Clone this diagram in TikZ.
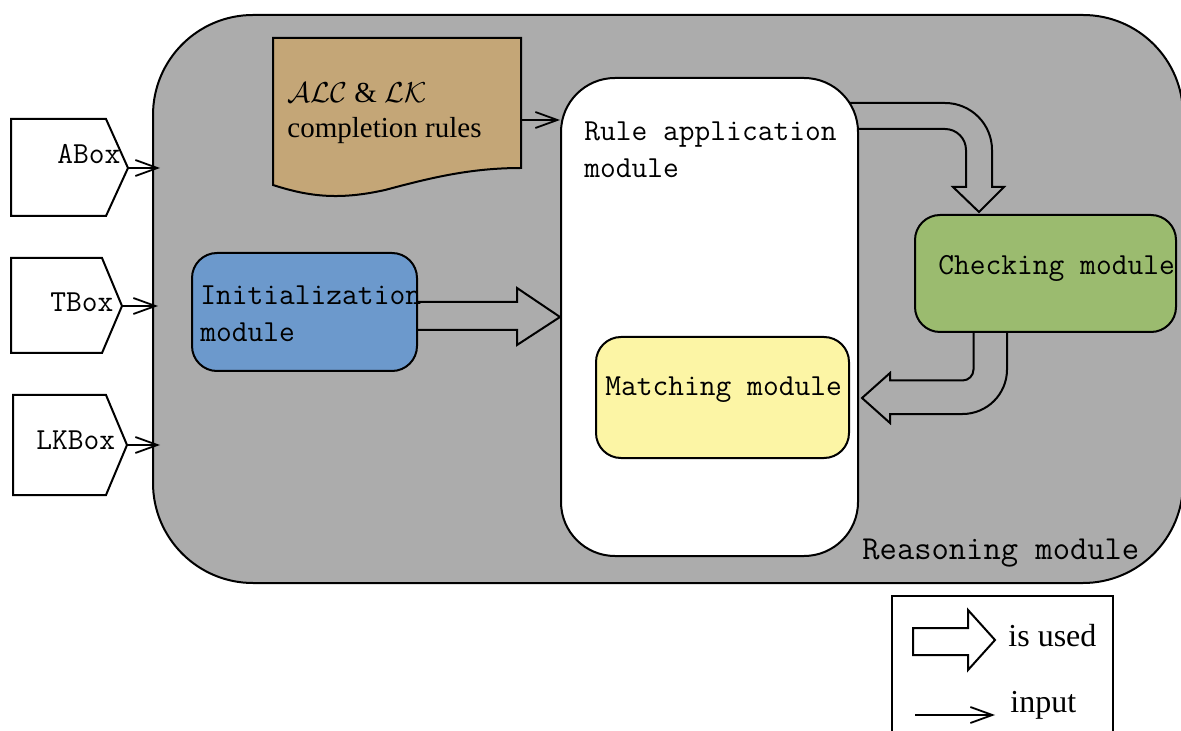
\documentclass[tikz,border=0pt]{standalone}
\usepackage{fontspec}
\setmainfont{Liberation Serif}
\usetikzlibrary{arrows.meta}

\definecolor{reasongray}{RGB}{172,172,172}
\definecolor{ruletan}{RGB}{196,166,119}
\definecolor{initblue}{RGB}{108,153,204}
\definecolor{checkgreen}{RGB}{155,187,111}
\definecolor{matchyellow}{RGB}{252,245,165}

\tikzset{
	module/.style={draw, line width=1pt, rounded corners=12.5pt, inner sep=0pt},
	modtext/.style={anchor=west, inner sep=0pt, align=left, font=\ttfamily\fontsize{15.3}{18.5}\selectfont},
	serftext/.style={anchor=west, inner sep=0pt, align=left, font=\fontsize{14.5}{17.5}\selectfont},
	input/.style={line width=0.9pt, -{Straight Barb[length=11pt,width=8pt,line width=0.9pt]}},
	used/.style={line width=1pt, line join=miter},
}

\begin{document}
\begin{tikzpicture}[x=0.5pt,y=-0.5pt]
		\useasboundingbox (0,0) rectangle (1181,731);
		% reasoning module
		\node[module, rounded corners=50pt, fill=reasongray, minimum width=515pt, minimum height=284pt] (reason) at (668,299) {};
		\node[modtext, font=\ttfamily\fontsize{16.8}{18.5}\selectfont] (reasonlbl) at (862,553) {Reasoning module};
		% inputs
		\filldraw[fill=white, line width=1pt] (11,119) -- (106,119) -- (128,168) -- (106,216) -- (11,216) -- cycle;
		\filldraw[fill=white, line width=1pt] (11,258) -- (102,258) -- (122,306) -- (102,353) -- (11,353) -- cycle;
		\filldraw[fill=white, line width=1pt] (13,395) -- (106,395) -- (127,445) -- (106,495) -- (13,495) -- cycle;
		\node[modtext] (abox) at (57,154) {ABox};
		\node[modtext] (tbox) at (50,302) {TBox};
		\node[modtext] (lkbox) at (36,440) {LKBox};
		\coordinate (aboxtip) at (128,168);
		\coordinate (tboxtip) at (122,306);
		\coordinate (lkboxtip) at (127,445);
		\draw[input] (aboxtip) -- ++(32,0);
		\draw[input] (tboxtip) -- ++(36,0);
		\draw[input] (lkboxtip) -- ++(33,0);
		% completion rules
		\filldraw[fill=ruletan, line width=1pt] (273,38) -- (521,38) -- (521,168)
			.. controls (470,168) and (430,178) .. (385,190)
			.. controls (340,200) and (310,197) .. (273,185) -- cycle;
		\node[serftext] (rules) at (287,113) {$\mathcal{ALC}$ \& $\mathcal{LK}$\\completion rules};
		\coordinate (rulesout) at (521,120);
		% rule application -> checking
		\draw[used] (830,103) -- (945,103) arc[start angle=-90, end angle=0, radius=47] -- (992,187) -- (1004,187)
			-- (979,212) -- (953,187) -- (966,187) -- (966,150) arc[start angle=0, end angle=-90, radius=21] -- (840,129);
		\node[module, rounded corners=27pt, fill=white, minimum width=148.5pt, minimum height=239pt] (apply) at (709.5,317) {};
		\node[modtext] (applylbl) at (584,150) {Rule application\\module};
		\draw[input] (rulesout) -- (rulesout -| apply.west);
		% matching
		\node[module, fill=matchyellow, minimum width=126.5pt, minimum height=60.5pt] (match) at (722.5,397.5) {};
		\node[modtext] (matchlbl) at (605,390) {Matching module};
		% checking
		\node[module, fill=checkgreen, minimum width=130.5pt, minimum height=58.5pt] (check) at (1045.5,273.5) {};
		\node[modtext] (checklbl) at (938,268) {Checking module};
		\draw[used] (check.south -| 1007,0) -- (1007,369.5) arc[start angle=0, end angle=90, radius=44.5] -- (890,414) -- (890,423)
			-- (862,398) -- (890,373) -- (890,380.5) -- (962.5,380.5) arc[start angle=90, end angle=0, radius=11] -- (check.south -| 973.5,0);
		% initialization
		\node[module, fill=initblue, minimum width=112.5pt, minimum height=59pt] (init) at (304.5,312) {};
		\node[modtext] (initlbl) at (200,314) {Initialization\\module};
		\draw[used] (init.east |- 0,302) -- (517,302) -- (517,288) -- (apply.west |- 0,317) -- (517,345) -- (517,330) -- (init.east |- 0,330);
		% legend
		\node[draw, line width=1pt, minimum width=110.5pt, minimum height=75pt, inner sep=0pt] (legend) at (1002.5,671) {};
		\draw[used] (913,628) -- (968,628) -- (968,610) -- (995,640) -- (968,670) -- (968,655) -- (913,655) -- cycle;
		\node[serftext, font=\fontsize{16}{19}\selectfont] (usedlbl) at (1008,636) {is used};
		\coordinate (inputstart) at (915,715);
		\draw[input] (inputstart) -- ++(80,0);
		\node[serftext, font=\fontsize{16}{19}\selectfont] (inputlbl) at (1010,705) {input};
	\end{tikzpicture}
\end{document}
